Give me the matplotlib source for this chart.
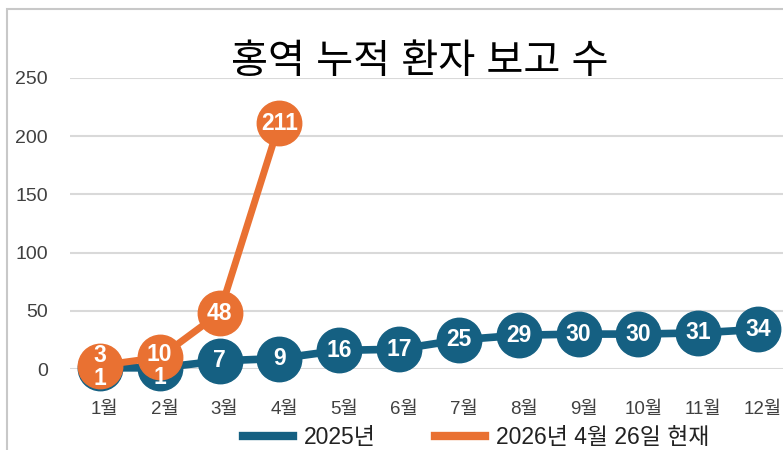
import matplotlib.pyplot as plt
from matplotlib.patches import Rectangle
import matplotlib.transforms as mtransforms
import numpy as np

plt.rcParams['font.family'] = ['Liberation Sans', 'Noto Sans CJK KR']

months = ['1월', '2월', '3월', '4월', '5월', '6월', '7월', '8월', '9월', '10월', '11월', '12월']
cases_2025 = [1, 1, 7, 9, 16, 17, 25, 29, 30, 30, 31, 34]
cases_2026 = [3, 10, 48, 211]
label_2025 = '2025년'
label_2026 = '2026년 4월 26일 현재'
title = '홍역 누적 환자 보고 수'

blue = '#156082'
orange = '#E97132'

W, H = 783, 450
fig = plt.figure(figsize=(W / 100, H / 100), dpi=100)

# chart frame (cut off on the right and bottom like the screenshot)
fig.patches.append(Rectangle((7 / W, -0.1), 1.2, 1 - 9 / H + 0.1,
                             transform=fig.transFigure, fill=False,
                             edgecolor='#c8c8c8', linewidth=1.5))

ax = fig.add_axes([70 / W, 1 - 369 / H, 718 / W, (369 - 78) / H])
x1 = np.arange(len(cases_2025))
x2 = np.arange(len(cases_2026))

l1, = ax.plot(x1, cases_2025, color=blue, lw=5.5, marker='o', ms=32,
              clip_on=False, zorder=3, label=label_2025)
l2, = ax.plot(x2, cases_2026, color=orange, lw=5, marker='o', ms=32,
              clip_on=False, zorder=4, label=label_2026)

# data labels (first two months nudged apart where markers overlap)
nudge_2025 = [-11, -10] + [0] * 10
nudge_2026 = [10, 3, 0, 0]
for xi, v, d in zip(x1, cases_2025, nudge_2025):
    ax.annotate(str(v), (xi, v), xytext=(0, d), textcoords='offset pixels',
                ha='center', va='center', color='white', fontsize=16.5,
                fontweight='bold', zorder=6, annotation_clip=False)
for xi, v, d in zip(x2, cases_2026, nudge_2026):
    ax.annotate(str(v), (xi, v), xytext=(0, d), textcoords='offset pixels',
                ha='center', va='center', color='white', fontsize=16.5,
                fontweight='bold', zorder=6, annotation_clip=False)

ax.set_xlim(-0.5, 11.5)
ax.set_ylim(0, 250)
ax.set_yticks([0, 50, 100, 150, 200, 250])
ax.set_xticks(x1)
ax.set_xticklabels(months)
ax.grid(axis='y', color='#d9d9d9', lw=1.5, zorder=0)
ax.set_axisbelow(True)
for s in ax.spines.values():
    s.set_visible(False)
ax.tick_params(axis='y', length=0, pad=16, labelsize=14, labelcolor='#404040')
ax.tick_params(axis='x', length=0, pad=23, labelsize=13.5, labelcolor='#404040')
shift = mtransforms.ScaledTranslation(5 / 100, 0, fig.dpi_scale_trans)
for lab in ax.get_xticklabels():
    lab.set_transform(lab.get_transform() + shift)

fig.text(420 / W, 1 - 62 / H, title, ha='center', va='center', fontsize=29,
         color='black')

leg = fig.legend(handles=[l1, l2], labels=[label_2025, label_2026], loc='center',
                 bbox_to_anchor=(476 / W, 1 - 438 / H), ncol=2, frameon=False,
                 fontsize=16.5, handlelength=2.2, columnspacing=2.6,
                 handletextpad=0.45, labelcolor='#222222')
for h in leg.legend_handles:
    h.set_marker('')
    h.set_linewidth(6)

fig.savefig('out.png', dpi=100)
